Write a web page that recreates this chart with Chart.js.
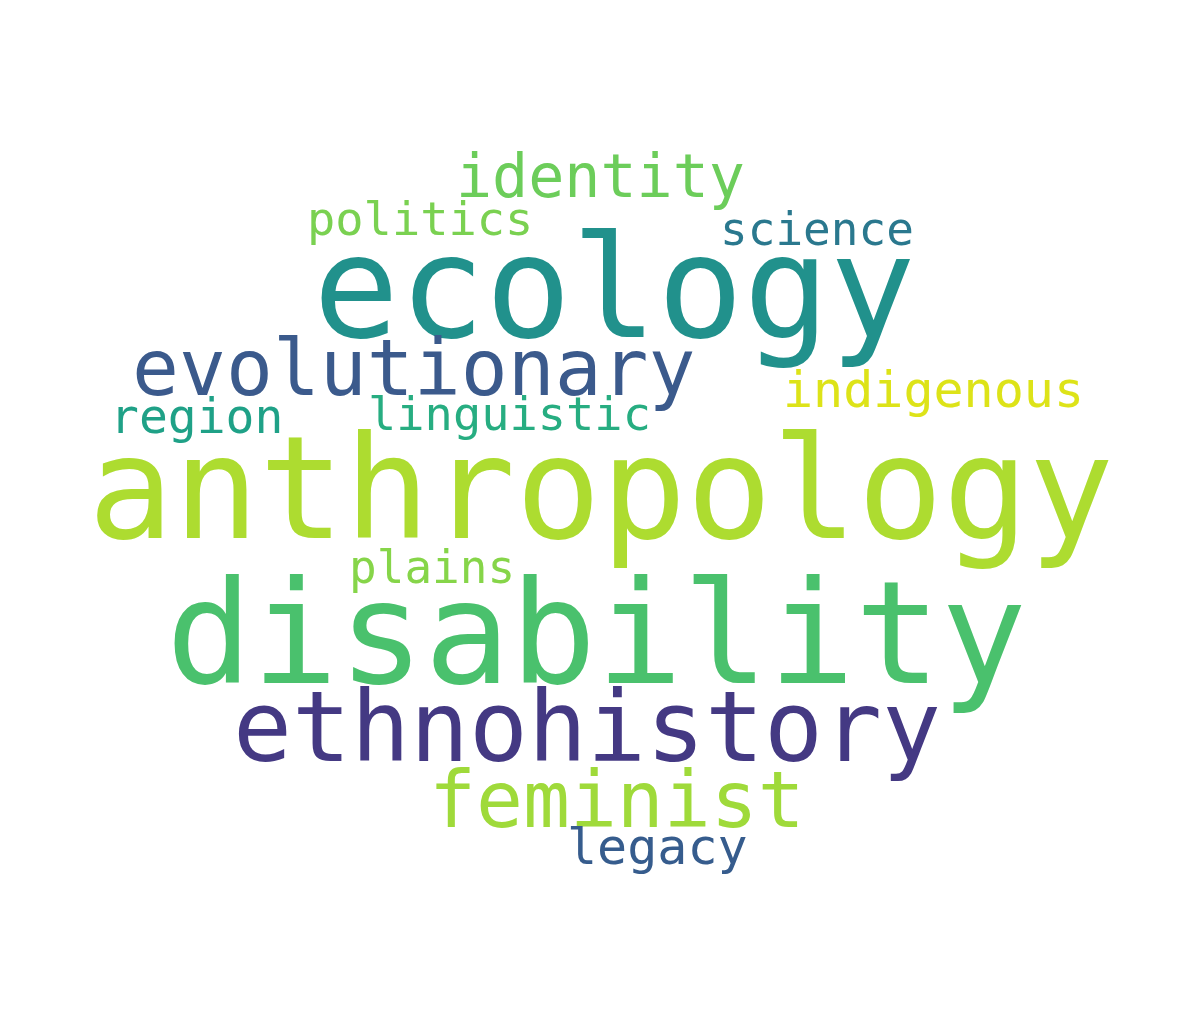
<!DOCTYPE html>
<html>
<head>
<meta charset="utf-8">
<script src="https://cdn.jsdelivr.net/npm/chart.js@4.4.1/dist/chart.umd.min.js"></script>
<style>
  html, body { margin:0; padding:0; background:#fff; }
  #wrap { width:1190px; height:1028px; }
</style>
</head>
<body>
<div id="wrap"><canvas id="cloud"></canvas></div>
<script>
/* ── Word cloud data ─────────────────────── */
const words  = ['ecology','anthropology','disability','ethnohistory','evolutionary','feminist','identity','indigenous','legacy','politics','science','region','linguistic','plains'];
const sizes  = [143, 142, 143, 98, 78, 78, 60, 50, 50, 47, 46, 48, 47, 46];
const xs     = [313, 88, 166, 233, 132, 429, 456, 783, 567, 307, 720, 110, 368, 349];
const ys     = [337, 538, 683, 761, 395, 827, 197, 407, 864, 235, 245, 433, 430, 583];
const colors = ['#21918c','#addc30','#4ac16d','#443983','#3b5a8c','#9fda3a','#6ccd5a','#dde318','#365c8d','#7ad151','#2a788e','#1fa187','#27ad81','#86d549'];

const FONT = '"DejaVu Sans Mono", monospace';

/* draws each word at its point, left-aligned on the baseline */
const wordPlugin = {
  id: 'words',
  afterDatasetsDraw(chart) {
    const ctx = chart.ctx;
    const meta = chart.getDatasetMeta(0);
    ctx.save();
    ctx.textAlign = 'left';
    ctx.textBaseline = 'alphabetic';
    meta.data.forEach((pt, i) => {
      ctx.font = `${sizes[i]}px ${FONT}`;
      ctx.fillStyle = colors[i];
      ctx.fillText(words[i], pt.x, pt.y);
    });
    ctx.restore();
  }
};

new Chart(document.getElementById('cloud'), {
  type: 'scatter',
  data: {
    datasets: [{
      label: 'words',
      data: words.map((w, i) => ({ x: xs[i], y: ys[i] })),
      pointRadius: 0,
      pointHoverRadius: 0,
    }],
  },
  options: {
    responsive: true,
    maintainAspectRatio: false,
    animation: false,
    layout: { padding: 0 },
    plugins: { legend: { display: false }, tooltip: { enabled: false } },
    scales: {
      x: { type: 'linear', min: 0, max: 1190, display: false },
      y: { type: 'linear', min: 0, max: 1028, reverse: true, display: false },
    },
  },
  plugins: [wordPlugin],
});
</script>
</body>
</html>
